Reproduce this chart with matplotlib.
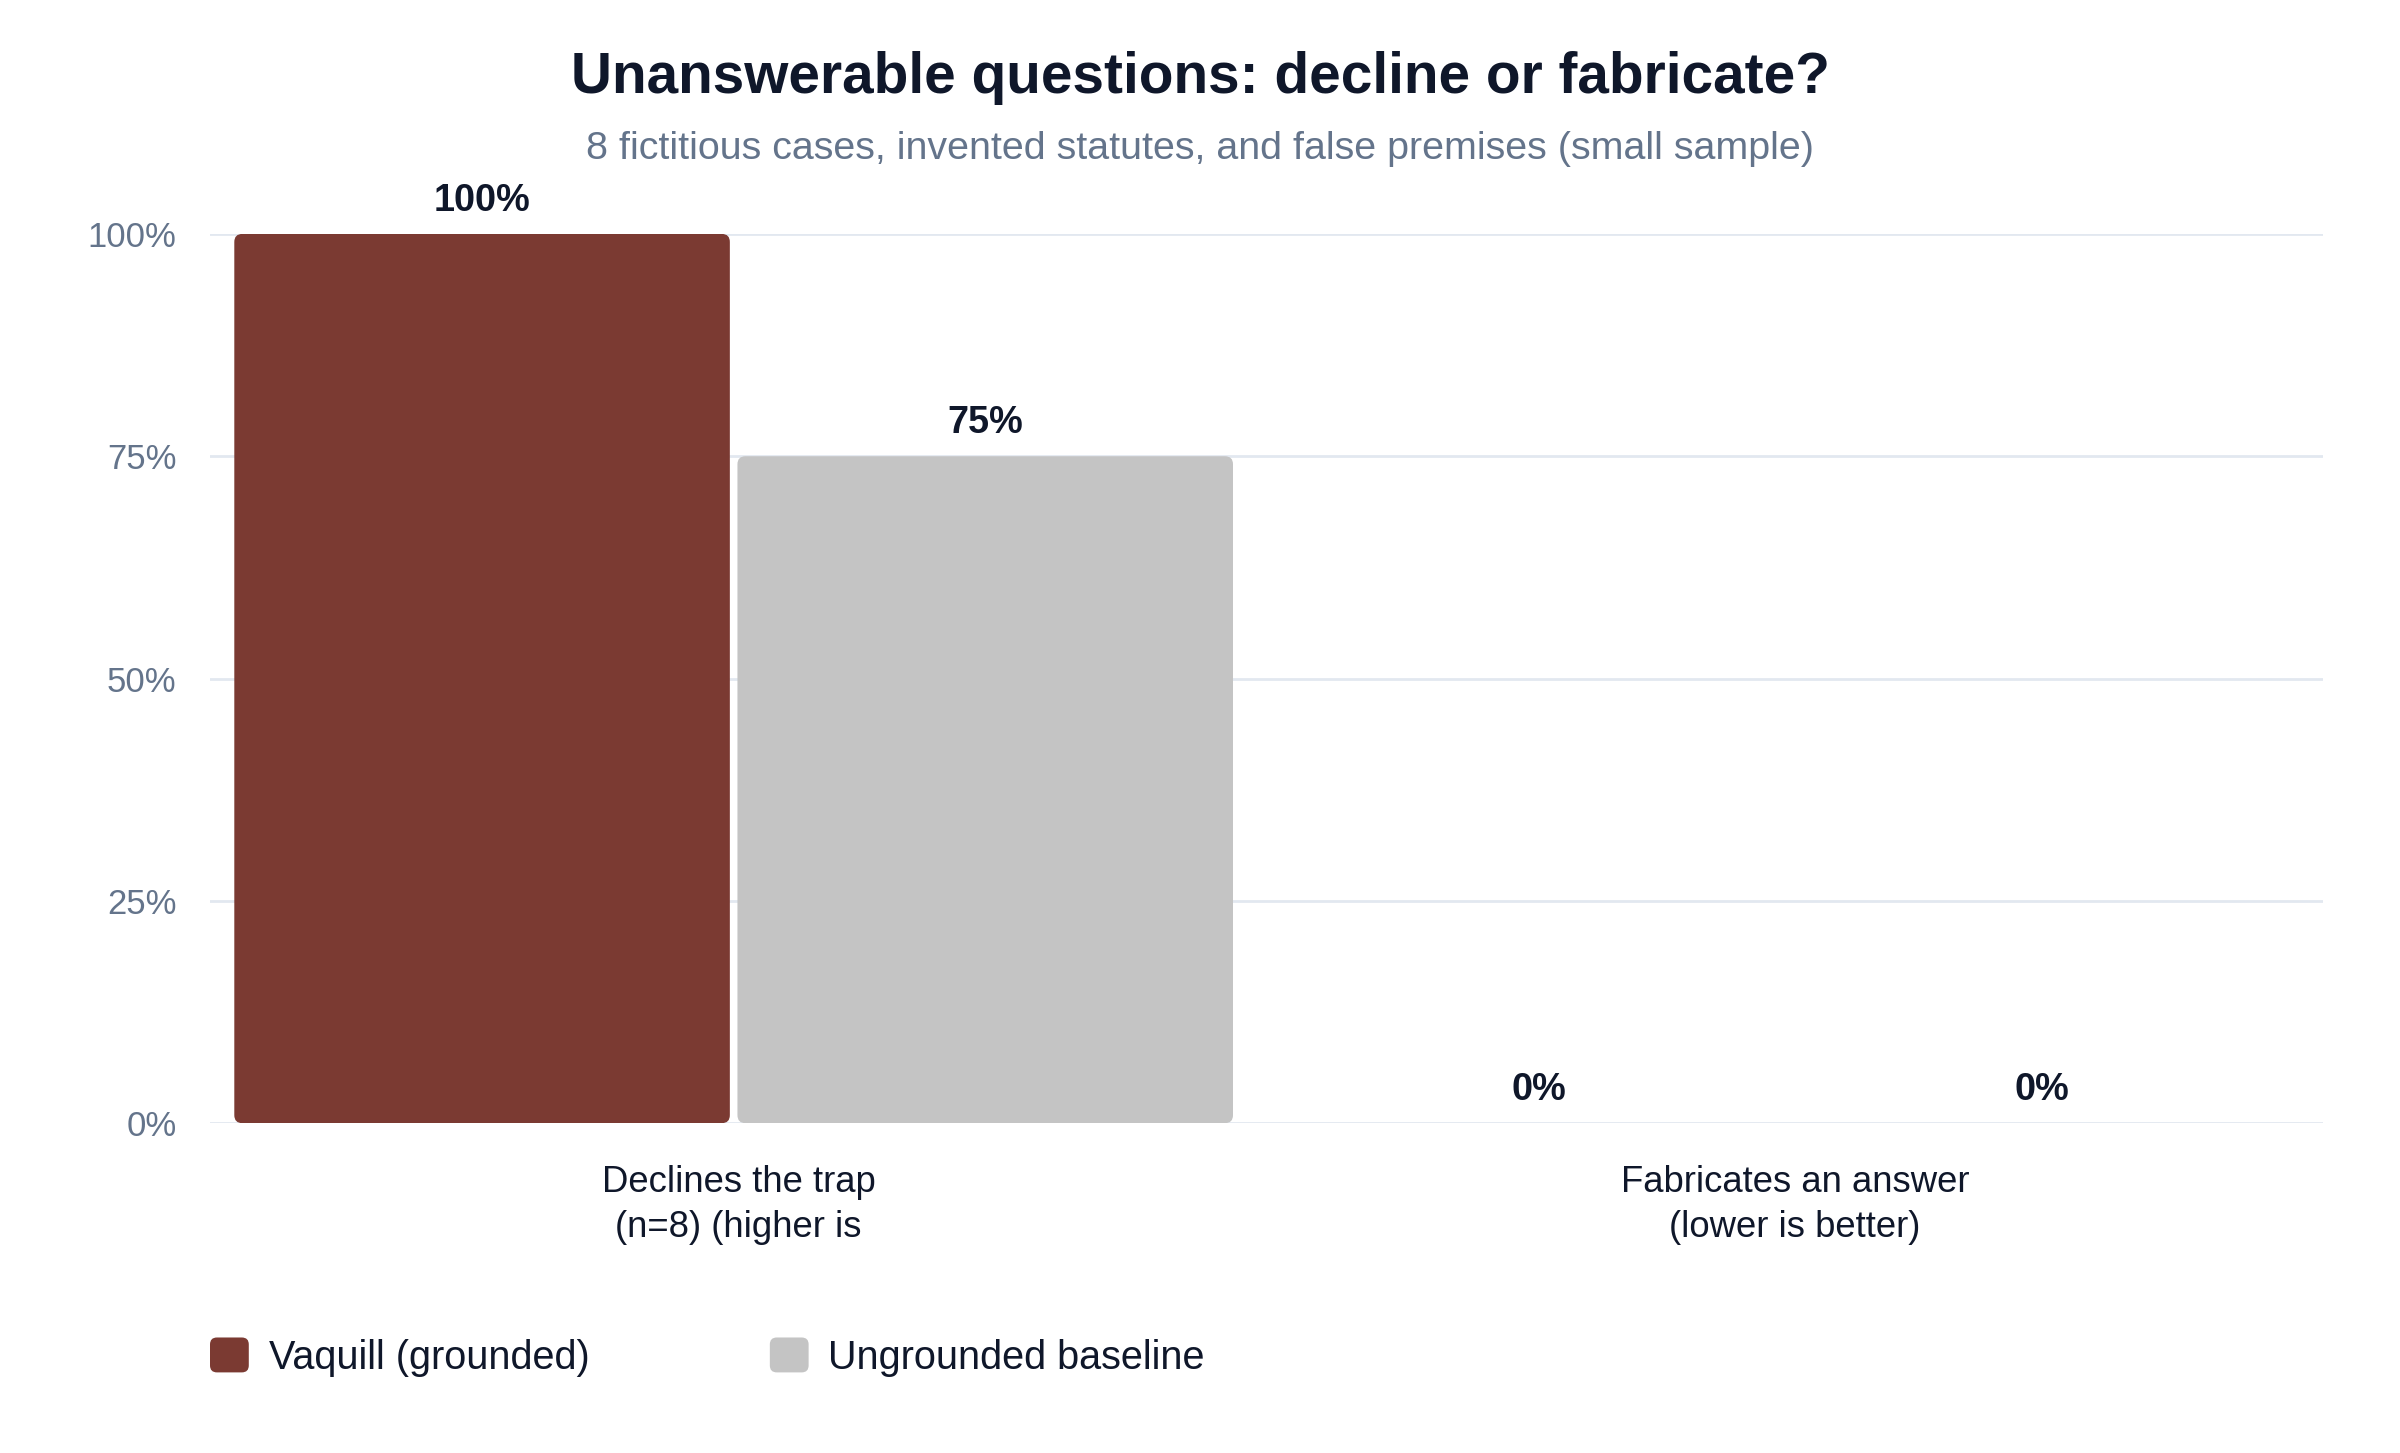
import matplotlib
matplotlib.use("Agg")
import matplotlib.pyplot as plt
import numpy as np
from matplotlib.patches import FancyBboxPatch, Patch
from matplotlib.legend_handler import HandlerPatch

## Data
categories = ["Declines the trap\n(n=8) (higher is", "Fabricates an answer\n(lower is better)"]
series_names = ["Vaquill (grounded)", "Ungrounded baseline"]
vaquill = [100, 0]
baseline = [75, 0]
y_ticks = [0, 25, 50, 75, 100]

colors = ["#7b3a32", "#c4c4c4"]
dark = "#0f172a"
slate = "#64748b"
grid_col = "#e2e8f0"

plt.rcParams['font.family'] = ['Liberation Sans', 'DejaVu Sans']

fig = plt.figure(figsize=(24, 14.53), dpi=100)
ax = fig.add_axes([0.0875, 0.227, 0.8805, 0.612])

x = np.arange(len(categories))
bar_w = 0.469
offset = bar_w / 2 + 0.0036

ax.set_xlim(-0.4956, 1.5044)
ax.set_ylim(0, 100)

# Draw the bars, then swap them for rounded boxes
fig.canvas.draw()
bbox = ax.get_window_extent()
x_per_px = 2.0 / bbox.width
y_per_px = 100.0 / bbox.height
radius_px = 8

for vals, col, off in zip([vaquill, baseline], colors, [-offset, offset]):
    bars = ax.bar(x + off, vals, width=bar_w, color=col, zorder=3)
    for rect, v in zip(bars, vals):
        bx, by = rect.get_x(), rect.get_y()
        bw, bh = rect.get_width(), rect.get_height()
        rect.remove()
        if bh > 0:
            rounded = FancyBboxPatch((bx, by), bw, bh,
                                     boxstyle="round,pad=0,rounding_size=%f" % (radius_px * x_per_px),
                                     mutation_aspect=y_per_px / x_per_px,
                                     facecolor=col, edgecolor="none", zorder=3)
            ax.add_patch(rounded)
        ax.annotate("%d%%" % v, (bx + bw / 2, bh), xytext=(0, 11), textcoords="offset points",
                    ha="center", va="bottom", fontsize=27.3, fontweight="bold", color=dark)

# Axis styling
ax.set_yticks(y_ticks)
ax.set_yticklabels(["%d%%" % t for t in y_ticks])
ax.set_xticks(x + 0.0045)
ax.set_xticklabels(categories)
ax.tick_params(axis="y", length=0, pad=24, labelsize=24.9, labelcolor=slate)
ax.tick_params(axis="x", length=0, pad=30, labelsize=26.3, labelcolor=dark)
for lbl in ax.get_xticklabels():
    lbl.set_linespacing(1.38)
for s in ax.spines.values():
    s.set_visible(False)
ax.grid(axis="y", color=grid_col, linewidth=2, zorder=0)
ax.set_axisbelow(True)

# Titles
fig.text(0.5, 1 - 78 / 1453, "Unanswerable questions: decline or fabricate?",
         ha="center", va="center", fontsize=40.9, fontweight="bold", color=dark)
fig.text(0.5, 1 - 149 / 1453, "8 fictitious cases, invented statutes, and false premises (small sample)",
         ha="center", va="center", fontsize=28.4, color=slate)

# Legend with rounded square handles
def rounded_handle(legend, orig_handle, xdescent, ydescent, width, height, fontsize):
    return FancyBboxPatch((-xdescent, -ydescent), width, height,
                          boxstyle="round,pad=0,rounding_size=5")

handles = [Patch(facecolor=c, edgecolor="none") for c in colors]
fig.legend(handles, series_names, loc="center left", bbox_to_anchor=(0.0875, 96 / 1453),
           ncol=2, frameon=False, fontsize=28.5, handlelength=0.98, handleheight=0.98,
           handletextpad=0.5, columnspacing=4.56, borderpad=0, borderaxespad=0,
           labelcolor=dark, handler_map={Patch: HandlerPatch(patch_func=rounded_handle)})

fig.savefig("out.png", dpi=100, facecolor="white")
